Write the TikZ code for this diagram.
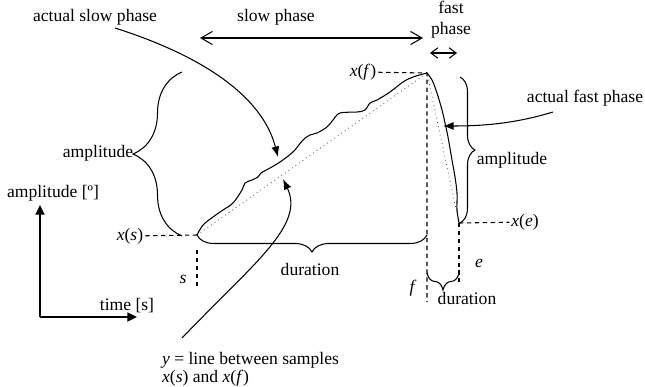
\documentclass[tikz,border=0pt]{standalone}
\usepackage{fontspec}
\setmainfont{Liberation Serif}
\usetikzlibrary{arrows.meta,decorations.pathreplacing}

\begin{document}
\begin{tikzpicture}[
        x=0.02cm, y=-0.02cm,
        every node/.style={font=\fontsize{10pt}{12pt}\selectfont, inner sep=1pt},
        trace/.style={line width=0.6pt},
        sample/.style={dotted, line width=0.45pt, black!70},
        guide/.style={line width=0.6pt, dash pattern=on 2.5pt off 2pt},
        brace/.style={line width=0.6pt, decorate, decoration={brace, amplitude=#1}},
        pointer/.style={line width=0.6pt, -{Latex[length=6pt, width=4.5pt]}},
        span/.style={line width=0.6pt, {Straight Barb[length=6.5pt, width=7.5pt]}-{Straight Barb[length=6.5pt, width=7.5pt]}},
        axis/.style={line width=1.3pt, -{Triangle[length=5.5pt, width=5pt]}}
    ]
        \useasboundingbox (0,0) rectangle (645,386);

        % samples
        \coordinate (xs) at (197,235);
        \coordinate (xf) at (427,73);
        \coordinate (xe) at (459,223);

        % labels
        \node (slowlab) at (95,17) {actual slow phase};
        \node (slowspan) at (276,17) {slow phase};
        \node[align=center] (fastspan) at (451,20) {fast\\phase};
        \node (fastlab) at (585,98) {actual fast phase};
        \node (lxs) at (130,236) {\textit{x}(\textit{s})};
        \node (lxf) at (363,72) {\textit{x}(\textit{f})};
        \node (lxe) at (525,222) {\textit{x}(\textit{e})};
        \node (ls) at (183,279) {\textit{s}};
        \node (lf) at (413,288) {\textit{f}};
        \node (le) at (479,263) {\textit{e}};
        \node (ampleft) at (98,153) {amplitude};
        \node (ampright) at (512,160) {amplitude};
        \node (durslow) at (310,269) {duration};
        \node (durfast) at (467,298) {duration};
        \node[anchor=north west, align=left, font=\fontsize{10pt}{8.5pt}\selectfont] (ylab) at (160,350)
            {\textit{y} = line between samples\\\textit{x}(\textit{s}) and \textit{x}(\textit{f})};
        \node (ampaxis) at (53,193) {amplitude [º]};
        \node (timeaxis) at (127,306) {time [s]};

        % guide lines
        \draw[guide] (lxs) -- (xs);
        \draw[guide] (lxf) -- (xf) -- (427,302);
        \draw[guide] (xe) -- (lxe);
        \draw[guide] (xe) -- (459,282);
        \draw[guide] (197,250) -- (197,286);

        % straight lines between samples
        \draw[sample] (xs) -- (xf) -- (xe);

        % actual slow phase
        \draw[trace] plot[smooth, tension=0.55] coordinates {
            (197,235) (203,225) (213,217) (223,210) (233,203) (242,190) (245,183)
            (252,180) (258,177) (261,173) (270,168) (280,162) (293,152) (303,140)
            (310,135) (317,133) (327,127) (333,120) (340,113) (357,112) (365,110)
            (370,103) (377,100) (390,92) (403,82) (413,77) (427,73)};

        % actual fast phase
        \draw[trace] plot[smooth, tension=0.55] coordinates {
            (427,73) (432,80) (437,93) (442,110) (445,123) (448,137) (452,160)
            (455,177) (457,193) (457,210) (459,223)};

        % braces
        \draw[brace=0.98cm] (182,236) -- (182,72);
        \draw[brace=0.3cm] (460,77) -- (460,223);
        \draw[brace=0.34cm] (427,235) -- (197,235);
        \draw[brace=0.34cm] (459,273) -- (427,273);

        % phase spans
        \draw[span] (200,38) -- (423,38);
        \draw[span, {Straight Barb[length=4pt, width=6pt]}-{Straight Barb[length=4pt, width=6pt]}] (430,53) -- (457,53);

        % pointers
        \coordinate (ystart) at (182,338);
        \draw[pointer] (115,28) .. controls (200,55) and (262,95) .. (278,157);
        \draw[pointer] (553,112) .. controls (520,122) and (490,126) .. (443,126);
        \draw[pointer] (ystart) .. controls (255,262) and (305,225) .. (283,179);

        % axes
        \coordinate (origin) at (40,317);
        \coordinate (ytip) at (40,205);
        \coordinate (xtip) at (137,317);
        \draw[axis] (origin) -- (ytip);
        \draw[axis] (origin) -- (xtip);
    \end{tikzpicture}
\end{document}
